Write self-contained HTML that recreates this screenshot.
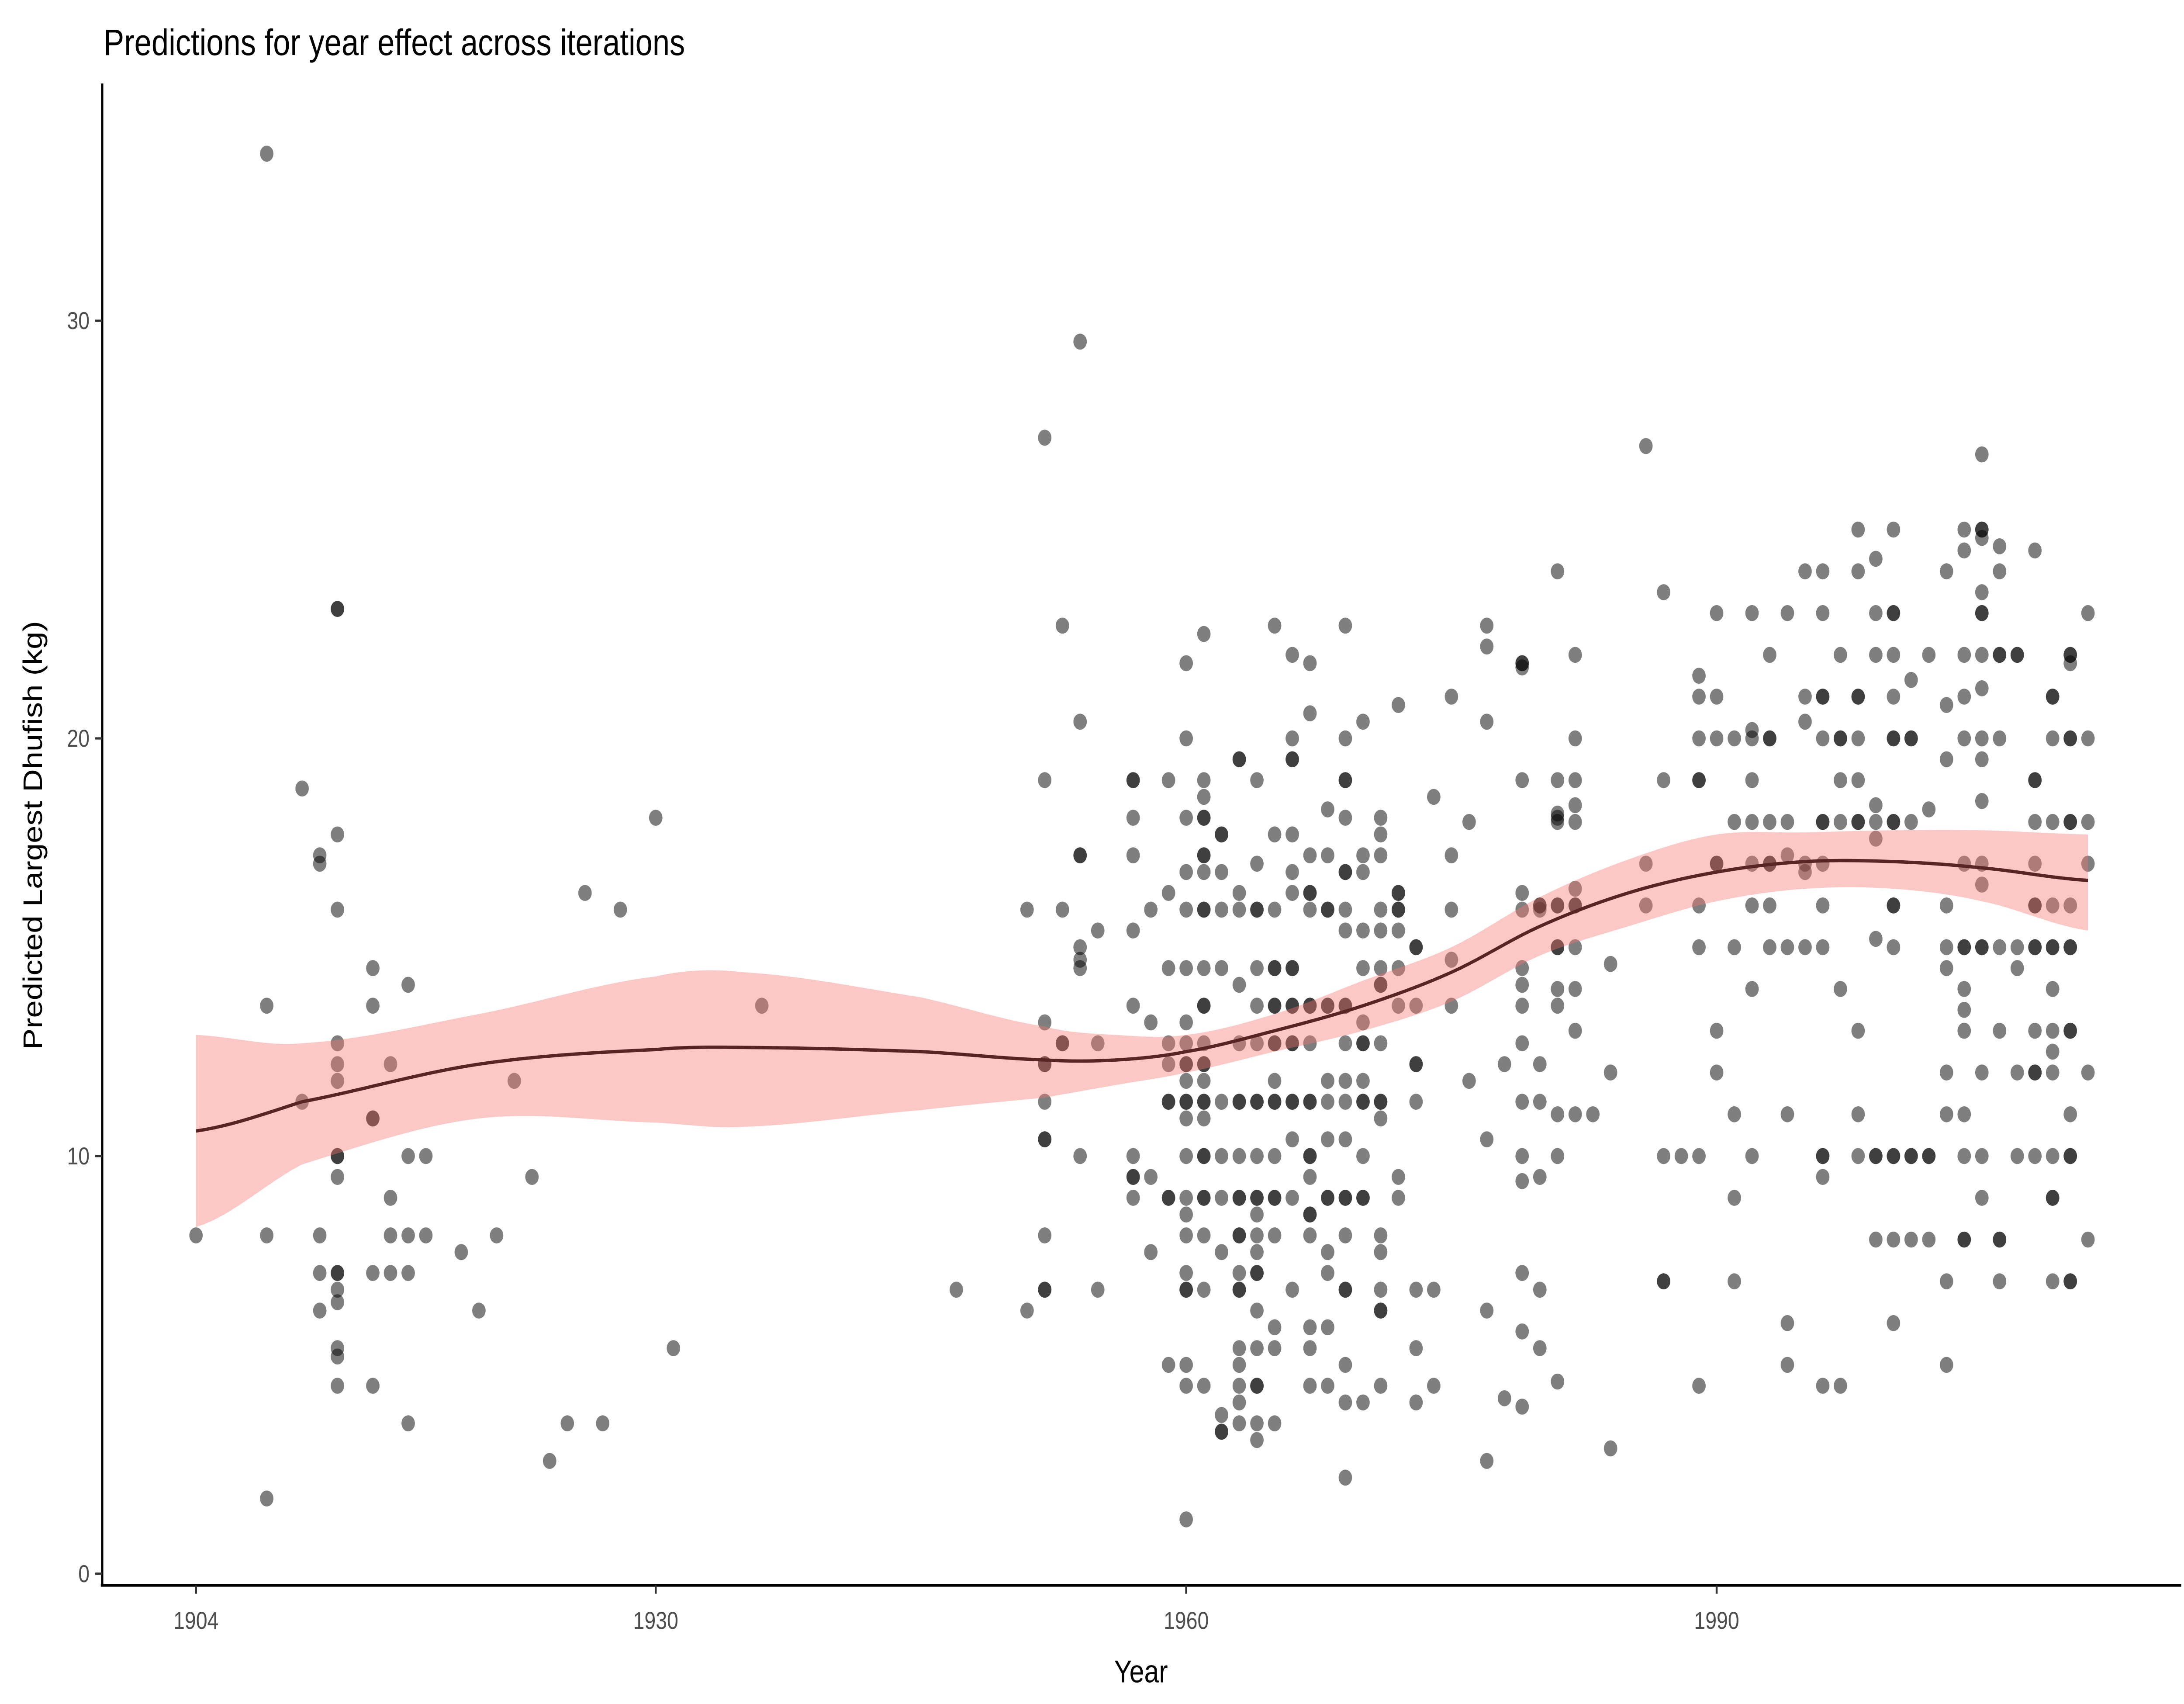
<!DOCTYPE html>
<html><head><meta charset="utf-8"><style>
html,body{margin:0;padding:0;background:#fff;width:100%;height:100%;overflow:hidden;}
svg{display:block;position:absolute;left:0;top:0;width:100vw;height:100vh;}
text{font-family:"Liberation Sans",sans-serif;}
</style></head><body>
<svg id="chart" viewBox="0 0 1560 1020" preserveAspectRatio="none" xmlns="http://www.w3.org/2000/svg">
<rect width="1560" height="1020" fill="#fff"/>
<text x="74" y="33" font-size="22" fill="#000">Predictions for year effect across iterations</text>
<g id="points"></g>
<path id="band" fill="#F8766D" fill-opacity="0.4" stroke="none"/>
<path id="trend" fill="none" stroke="#5a2424" stroke-width="2"/>
<line x1="73" y1="50" x2="73" y2="949" stroke="#000" stroke-width="1.6"/>
<line x1="72" y1="949" x2="1558" y2="949" stroke="#000" stroke-width="1.6"/>
<g id="yticks"></g>
<g id="xticks"></g>
<text x="815" y="1007" font-size="19" text-anchor="middle">Year</text>
<text transform="translate(30,500) rotate(-90)" font-size="19" text-anchor="middle">Predicted Largest Dhufish (kg)</text>
</svg>
<script>
const years = [1904,1908,1910,1911,1912,1914,1915,1916,1917,1919,1920,1921,1922,1923,1924,1925,1926,1927,1928,1930,1931,1936,1947,1951,1952,1953,1954,1955,1957,1958,1959,1960,1961,1962,1963,1964,1965,1966,1967,1968,1969,1970,1971,1972,1973,1974,1975,1976,1977,1978,1979,1980,1981,1982,1983,1984,1986,1987,1988,1989,1990,1991,1992,1993,1994,1995,1996,1997,1998,1999,2000,2001,2002,2003,2004,2005,2006,2007,2008,2009,2010,2011];
const values = [
[8.1],[34,13.6,8.1,1.8],[11.3,18.8],[17.2,17.0,8.1,7.2,6.3],
[23.1,17.7,15.9,12.7,12.2,11.8,10,9.5,7.2,6.8,6.5,5.4,5.2,4.5],
[14.5,13.6,10.9,7.2,4.5],[12.2,9.0,8.1,7.2],[14.1,8.1,7.2,3.6],[10,8.1],[7.7],[6.3],[8.1],[11.8],[9.5],[2.7],[3.6],[16.3],[3.6],[15.9],[18.1],[5.4],[13.6],[6.8],[15.9,6.3],
[27.2,19.0,13.2,12.2,11.3,10.4,8.1,6.8],[22.7,15.9,12.7],[29.5,20.4,17.2,15.0,14.7,14.5,10.0],[15.4,12.7,6.8],
[19.0,18.1,17.2,15.4,13.6,10.0,9.5,9.0],[15.9,13.2,9.5,7.7],[19.0,16.3,14.5,12.7,12.2,11.3,9.0,5.0],
[21.8,20.0,18.1,16.8,15.9,14.5,13.2,12.7,12.2,11.8,11.3,10.9,10,9.0,8.6,8.1,7.2,6.8,5.0,4.5,1.3],
[22.5,19.0,18.6,18.1,17.2,16.8,15.9,14.5,13.6,12.7,12.2,11.8,11.3,10.9,10,9.0,8.1,6.8,4.5],
[17.7,16.8,15.9,14.5,11.3,10,9.0,7.7,3.8,3.4],
[19.5,16.3,15.9,14.1,12.7,11.3,10.0,9.0,8.1,7.2,6.8,5.4,5.0,4.5,4.1,3.6],
[19.0,17.0,15.9,14.5,13.6,12.7,11.3,10.0,9.0,8.6,8.1,7.7,7.2,6.3,5.4,4.5,3.6,3.2],
[22.7,17.7,15.9,14.5,13.6,12.7,11.8,11.3,10.0,9.0,8.1,5.9,5.4,3.6],
[22.0,20.0,19.5,17.7,16.8,16.3,14.5,13.6,12.7,11.3,10.4,9.0,6.8],
[21.8,20.6,17.2,16.3,15.9,13.6,12.7,11.3,10,9.5,8.6,8.1,5.9,5.4,4.5],
[18.3,17.2,15.9,13.6,11.8,11.3,10.4,9.0,7.7,7.2,5.9,4.5],
[22.7,20.0,19.0,18.1,16.8,15.9,15.4,13.6,12.7,11.8,11.3,10.4,9.0,8.1,6.8,5.0,4.1,2.3],
[20.4,17.2,16.8,15.4,14.5,13.2,12.7,11.8,11.3,10.0,9.0,4.1],
[18.1,17.7,17.2,15.9,15.4,14.5,14.1,12.7,11.3,10.9,8.1,7.7,6.8,6.3,4.5],
[20.8,16.3,15.9,15.4,14.5,13.6,9.5,9.0],[15.0,13.6,12.2,11.3,6.8,5.4,4.1],[18.6,6.8,4.5],[21.0,17.2,15.9,14.7,13.6],[18.0,11.8],[22.7,22.2,20.4,10.4,6.3,2.7],[12.2,4.2],
[21.8,21.7,19.0,16.3,15.9,14.5,14.1,13.6,12.7,11.3,10,9.4,7.2,5.8,4.0],
[16.0,15.9,12.2,11.3,9.5,6.8,5.4],
[24.0,19.0,18.2,18.1,18.0,16,15.0,14.0,13.6,11.0,10.0,4.6],
[22.0,20.0,19.0,18.4,18.0,16.4,16,15.0,14.0,13.0,11.0],
[11.0],[14.6,12.0,3.0],[27.0,17.0,16.0],[23.5,19.0,10.0,7.0],[10],
[21.5,21.0,20.0,19.0,16.0,15.0,10.0,4.5],[23.0,21.0,20.0,17.0,13.0,12.0],[20.0,18.0,15.0,11.0,9.0,7.0],
[23.0,20.2,20.0,19.0,18.0,17.0,16.0,14.0,10.0],[22.0,20.0,18.0,17.0,16.0,15.0],[23.0,18.0,17.2,15.0,11.0,6.0,5.0],
[24.0,21.0,20.4,17.0,16.8,15.0],[24.0,23.0,21.0,20.0,18.0,17.0,16.0,15.0,10.0,9.5,4.5],[22.0,20.0,19.0,18.0,14.0,4.5],
[25.0,24.0,21.0,20.0,19.0,18.0,13.0,11.0,10.0],[24.3,23.0,22.0,18.4,18.0,17.6,15.2,10,8.0],
[25.0,23.0,22.0,21.0,20.0,18.0,16.0,15.0,10,8.0,6.0],[21.4,20,18.0,10,8.0],[22.0,18.3,10,8.0],
[24.0,20.8,19.5,16.0,15.0,14.5,12.0,11.0,7.0,5.0],
[25.0,24.5,22.0,21.0,20.0,17.0,15.0,14.0,13.5,13.0,11.0,10.0,8.0],
[26.8,25.0,24.8,23.5,23.0,22.0,21.2,20.0,19.5,18.5,17.0,16.5,15.0,12.0,10.0,9.0],
[24.6,24.0,22.0,20.0,15.0,13.0,8.0,7.0],[22.0,15.0,14.5,12.0,10.0],
[24.5,19,18.0,17.0,16.0,15.0,13.0,12.0,10.0],
[21.0,20.0,18.0,16.0,15.0,14.0,13.0,12.5,12.0,10.0,9.0,7.0],
[22.0,21.8,20.0,18.0,16.0,15.0,13.0,11.0,10.0,7.0],[23.0,20.0,18.0,17.0,12.0,8.0]
];
const repeatYears = [1912,1912,1912,1914,1916,1952,1952,1952,1953,1954,1957,1957,1959,1959,1960,1960,1960,1961,1961,1961,1961,1961,1961,1961,1961,1962,1962,1963,1963,1963,1963,1963,1964,1964,1964,1964,1964,1965,1965,1965,1965,1965,1966,1966,1966,1966,1966,1967,1967,1967,1967,1967,1968,1968,1968,1969,1969,1969,1969,1969,1970,1970,1970,1971,1971,1971,1972,1972,1973,1973,1979,1980,1981,1981,1982,1987,1989,1990,1993,1993,1996,1996,1996,1997,1998,1998,1999,2000,2000,2000,2000,2000,2001,2001,2002,2004,2004,2005,2005,2005,2006,2006,2007,2008,2008,2008,2008,2009,2009,2009,2010,2010,2010,2010,2010,2010,2010];
const repeatValues = [23.1,10,7.2,10.9,10,12.2,10.4,6.8,12.7,17.2,19.0,9.5,11.3,9.0,12.2,11.3,6.8,18.1,17.2,15.9,13.6,12.2,11.3,10,9.0,17.7,3.4,19.5,11.3,9.0,8.1,6.8,15.9,11.3,9.0,7.2,4.5,14.5,13.6,12.7,11.3,9.0,19.5,14.5,13.6,12.7,11.3,16.3,13.6,11.3,10,8.6,15.9,13.6,9.0,19.0,16.8,13.6,9.0,6.8,12.7,11.3,9.0,14.1,11.3,6.3,16.3,15.9,15.0,12.2,21.8,16.0,16,15.0,16,7.0,19.0,17.0,20.0,17.0,21.0,18.0,10.0,20.0,21.0,18.0,10,23.0,20.0,18.0,16.0,10,20,10,10,15.0,8.0,25.0,23.0,15.0,22.0,8.0,22.0,19,16.0,15.0,12.0,21.0,15.0,9.0,22.0,20.0,18.0,15.0,13.0,10.0,7.0];
const fitYears = [1904,1910,1920,1930,1935,1945,1952,1956,1960,1965,1970,1975,1980,1985,1990,1995,2000,2005,2011];
const fitValues = [10.6,11.3,12.2,12.55,12.6,12.5,12.3,12.3,12.5,13.0,13.6,14.4,15.5,16.3,16.8,17.05,17.05,16.9,16.6];
const fitUpper = [12.9,12.7,13.4,14.3,14.4,13.8,13.1,12.9,12.9,13.4,14.2,15.0,16.2,17.1,17.7,17.75,17.8,17.8,17.7];
const fitLower = [8.3,9.8,10.9,10.8,10.7,11.1,11.4,11.7,12.0,12.5,13.0,13.7,14.8,15.5,16.1,16.4,16.4,16.1,15.4];
const yTicks = [0,10,20,30];
const xTicks = [1904,1930,1960,1990];

const NS = "http://www.w3.org/2000/svg";
function xs(yr){ return 140 + (yr-1904)*12.63; }
function ys(v){ return 942 - v*25.0; }
const pts = document.getElementById('points');
function dot(yr,v){
  const c = document.createElementNS(NS,'circle');
  
  
  c.setAttribute('cx',xs(yr)); c.setAttribute('cy',ys(v)); c.setAttribute('r',4.8);
  c.setAttribute('fill','#000'); c.setAttribute('fill-opacity','0.5');
  pts.appendChild(c);
}
years.forEach((yr,i)=>values[i].forEach(v=>dot(yr,v)));
repeatYears.forEach((yr,i)=>dot(yr,repeatValues[i]));

function interp(xa,ya,x){
  let i=0; while(i<xa.length-2 && x>xa[i+1]) i++;
  const p0=ya[Math.max(i-1,0)],p1=ya[i],p2=ya[i+1],p3=ya[Math.min(i+2,ya.length-1)];
  const t=(x-xa[i])/(xa[i+1]-xa[i]);
  return 0.5*((2*p1)+(-p0+p2)*t+(2*p0-5*p1+4*p2-p3)*t*t+(-p0+3*p1-3*p2+p3)*t*t*t);
}
const samp=[]; for(let x=fitYears[0]; x<=fitYears[fitYears.length-1]+0.001; x+=0.5) samp.push(x);
document.getElementById('trend').setAttribute('d','M'+samp.map(x=>xs(x).toFixed(2)+','+ys(interp(fitYears,fitValues,x)).toFixed(2)).join('L'));
document.getElementById('band').setAttribute('d','M'+samp.map(x=>xs(x).toFixed(2)+','+ys(interp(fitYears,fitUpper,x)).toFixed(2)).join('L')+'L'+samp.slice().reverse().map(x=>xs(x).toFixed(2)+','+ys(interp(fitYears,fitLower,x)).toFixed(2)).join('L')+'Z');

const yt=document.getElementById('yticks');
yTicks.forEach(v=>{
  const l=document.createElementNS(NS,'line');
  
  
  l.setAttribute('x1',68);l.setAttribute('x2',73);l.setAttribute('y1',ys(v));l.setAttribute('y2',ys(v));
  l.setAttribute('stroke','#333');l.setAttribute('stroke-width','1.4');yt.appendChild(l);
  const t=document.createElementNS(NS,'text');
  
  
  t.setAttribute('x',64);t.setAttribute('y',ys(v)+5);t.setAttribute('text-anchor','end');
  t.setAttribute('font-size','14.5');t.setAttribute('fill','#4d4d4d');t.textContent=v;yt.appendChild(t);
});
const xt=document.getElementById('xticks');
xTicks.forEach(v=>{
  const l=document.createElementNS(NS,'line');
  
  
  l.setAttribute('x1',xs(v));l.setAttribute('x2',xs(v));l.setAttribute('y1',949);l.setAttribute('y2',954);
  l.setAttribute('stroke','#333');l.setAttribute('stroke-width','1.4');xt.appendChild(l);
  const t=document.createElementNS(NS,'text');
  
  
  t.setAttribute('x',xs(v));t.setAttribute('y',975);t.setAttribute('text-anchor','middle');
  t.setAttribute('font-size','14.5');t.setAttribute('fill','#4d4d4d');t.textContent=v;xt.appendChild(t);
});
</script>
</body></html>
